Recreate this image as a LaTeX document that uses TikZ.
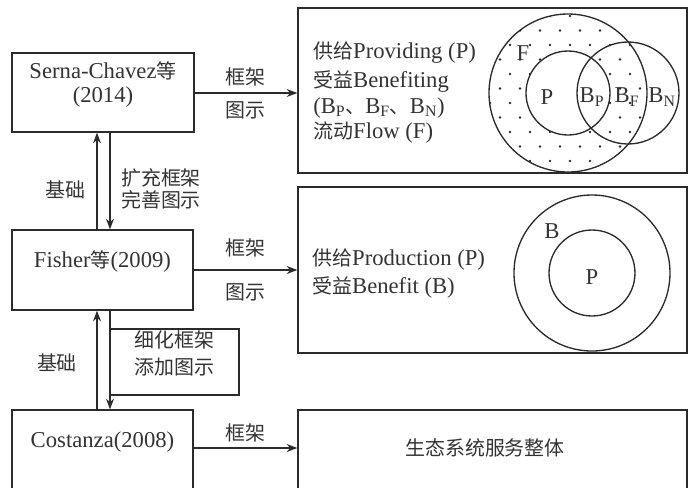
\documentclass[tikz,border=0pt]{standalone}
\usepackage{fontspec}
\setmainfont{Liberation Serif}
\newfontfamily\cjk[Scale=0.88]{Noto Sans CJK SC}
\newcommand{\zh}[1]{{\cjk #1}}
\usetikzlibrary{arrows.meta,fit}
\definecolor{ink}{HTML}{2B2B2B}
\definecolor{txt}{HTML}{333333}
\begin{document}
\begin{tikzpicture}[x=0.75pt,y=-0.75pt,
  every node/.style={font=\fontsize{17}{18}\selectfont, text=txt},
  box/.style={draw=ink, line width=1pt, inner sep=0pt, align=center},
  lbl/.style={inner sep=0pt, align=center},
  arr/.style={draw=ink, line width=1pt, -{Stealth[length=8pt,width=6pt]}},
  ring/.style={circle, draw=ink, line width=1pt, inner sep=0pt}]
\useasboundingbox (0,0) rectangle (690,487);
\clip (0,0) rectangle (690,487);
% left boxes
\node[box, fit={(12,53)(194,132)}] (serna) {Serna-Chavez\zh{等}\\(2014)};
\node[box, fit={(12,230)(193,310)}] (fisher) {Fisher\zh{等}(2009)};
\node[box, fit={(12,410)(193,490)}] (costanza) {Costanza(2008)};
\node[box, fit={(110,329)(239,395)}, fill=white] (refine) {\zh{细化框架}\\[2pt]\zh{添加图示}};
% right boxes
\node[box, fit={(298,8)(687,173)}] (topbox) {};
\node[box, fit={(298,187)(687,353)}] (midbox) {};
\node[box, fit={(298,410)(687,490)}] (botbox) {};
% horizontal arrows
\draw[arr] (serna.east |- 0,93) coordinate (s1) -- (s1 -| topbox.west);
\draw[arr] (fisher.east |- 0,270) coordinate (f1) -- (f1 -| midbox.west);
\draw[arr] (costanza.east |- 0,448) coordinate (c1) -- (c1 -| botbox.west);
\node[lbl] (l1a) at (245,77) {\zh{框架}};
\node[lbl] (l1b) at (245,110) {\zh{图示}};
\node[lbl] (l2a) at (245,248) {\zh{框架}};
\node[lbl] (l2b) at (245,292) {\zh{图示}};
\node[lbl] (l3a) at (245,433) {\zh{框架}};
% vertical arrows
\draw[arr] (fisher.north -| 97,0) coordinate (u1) -- (u1 |- serna.south);
\draw[arr] (serna.south -| 110,0) coordinate (d1) -- (d1 |- fisher.north);
\draw[arr] (costanza.north -| 97,0) coordinate (u2) -- (u2 |- fisher.south);
\draw[arr] (fisher.south -| 110,0) coordinate (d2) -- (d2 |- costanza.north);
\node[lbl] (b1) at (65,190) {\zh{基础}};
\node[lbl] (b2) at (57,363) {\zh{基础}};
\node[lbl] (ext) at (161,189) {\zh{扩充框架}\\[-1pt]\zh{完善图示}};
% top box text
\node[lbl, anchor=west] (t1) at (313,53) {\zh{供给}Providing (P)};
\node[lbl, anchor=west] (t2) at (313,82) {\zh{受益}Benefiting};
\node[lbl, anchor=west] (t3) at (313,108) {(B\textsubscript{P}\zh{、}B\textsubscript{F}\zh{、}B\textsubscript{N})};
\node[lbl, anchor=west] (t4) at (313,133) {\zh{流动}Flow (F)};
% dotted region
\begin{scope}
  \clip (568,93) circle (59.25pt);
  \foreach \j in {0,...,11}{
    \foreach \i in {0,...,8}{
      \fill[ink] ({490+20*\i+10*mod(\j,2)},{16+14.5*\j}) circle (1.1pt);
    }
  }
\end{scope}
\fill[white] (568,93) circle (31.5pt);
\node[ring, minimum size=118.5pt] (cF) at (568,93) {};
\node[ring, minimum size=63pt] (cP) at (568,93) {};
\node[ring, minimum size=76.5pt] (cN) at (628,93) {};
\node[lbl] (lF) at (523,53) {F};
\node[lbl] (lP) at (547,97) {P};
\node[lbl] (lBP) at (592,97) {B\textsubscript{P}};
\node[lbl] (lBF) at (627,97) {B\textsubscript{F}};
\node[lbl] (lBN) at (662,97) {B\textsubscript{N}};
% middle box
\node[lbl, anchor=west] (m1) at (312,260) {\zh{供给}Production (P)};
\node[lbl, anchor=west] (m2) at (312,287) {\zh{受益}Benefit (B)};
\node[ring, minimum size=117pt] (cB2) at (592,273) {};
\node[ring, minimum size=64.5pt] (cP2) at (592,273) {};
\node[lbl] (lB2) at (552,231) {B};
\node[lbl] (lP2) at (592,277) {P};
% bottom box
\node[lbl] (whole) at (485,448) {\zh{生态系统服务整体}};
\end{tikzpicture}
\end{document}
